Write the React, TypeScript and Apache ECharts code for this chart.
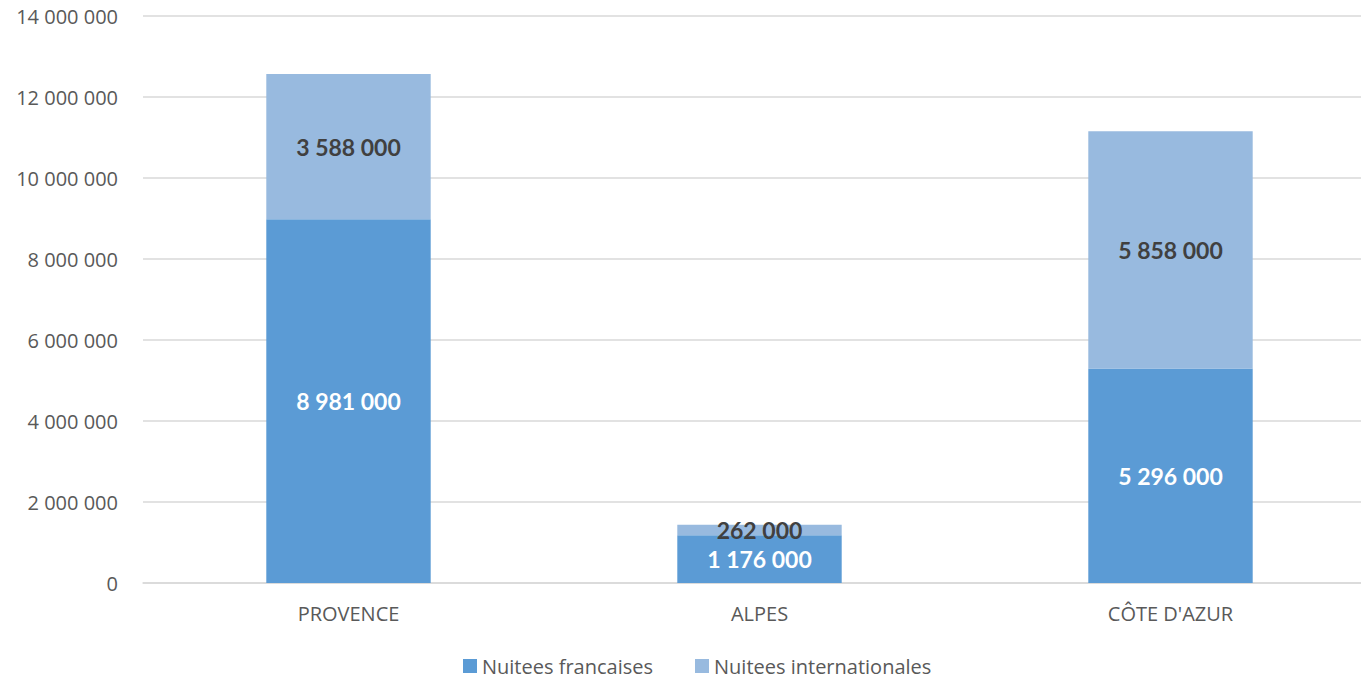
import React, { useEffect, useRef } from "react";
import * as echarts from "echarts";

const categories = ["PROVENCE", "ALPES", "CÔTE D'AZUR"];
const nuiteesFrancaises = [8981000, 1176000, 5296000];
const nuiteesInternationales = [3588000, 262000, 5858000];
const seriesNames = ["Nuitees francaises", "Nuitees internationales"];

const fmt = (v: number) =>
  String(Math.round(v)).replace(/\B(?=(\d{3})+(?!\d))/g, " ");

export default function App() {
  const ref = useRef<HTMLDivElement>(null);
  useEffect(() => {
    if (!ref.current) return;
    const chart = echarts.init(ref.current, null, { renderer: "svg" });
    const labelFont = "Lato, 'Open Sans', sans-serif";
    chart.setOption({
      animation: false,
      backgroundColor: "#ffffff",
      grid: { left: 143, width: 1233, top: 16, bottom: 96, containLabel: false },
      legend: {
        data: seriesNames,
        top: 656,
        left: 463,
        padding: 0,
        itemWidth: 14,
        itemHeight: 14,
        itemGap: 42,
        icon: "rect",
        textStyle: {
          fontFamily: "'Open Sans', sans-serif",
          fontSize: 20,
          lineHeight: 20,
          color: "#595959",
        },
      },
      xAxis: {
        type: "category",
        data: categories,
        axisLine: { lineStyle: { color: "#d9d9d9", width: 1.5 } },
        axisTick: { show: false },
        axisLabel: {
          margin: 20,
          fontFamily: "'Open Sans', sans-serif",
          fontSize: 20,
          color: "#595959",
        },
      },
      yAxis: {
        type: "value",
        min: 0,
        max: 14000000,
        interval: 2000000,
        axisLine: { show: false },
        axisTick: { show: false },
        splitLine: { lineStyle: { color: "#d9d9d9", width: 1.5 } },
        axisLabel: {
          margin: 25,
          fontFamily: "'Open Sans', sans-serif",
          fontSize: 20,
          color: "#595959",
          formatter: (v: number) => fmt(v),
        },
      },
      series: [
        {
          name: seriesNames[0],
          type: "bar",
          stack: "total",
          data: nuiteesFrancaises,
          barWidth: "40%",
          itemStyle: { color: "#5B9BD5" },
          label: {
            show: true,
            position: "inside",
            color: "#ffffff",
            fontFamily: labelFont,
            fontWeight: "bold",
            fontSize: 23,
            formatter: (p: any) => fmt(p.value),
          },
        },
        {
          name: seriesNames[1],
          type: "bar",
          stack: "total",
          data: nuiteesInternationales,
          barWidth: "40%",
          itemStyle: { color: "#98BADF" },
          label: {
            show: true,
            position: "inside",
            color: "#404040",
            fontFamily: labelFont,
            fontWeight: "bold",
            fontSize: 23,
            formatter: (p: any) => fmt(p.value),
          },
        },
      ],
    });
    return () => chart.dispose();
  }, []);
  return (
    <div
      ref={ref}
      style={{ position: "fixed", left: 0, top: 0, width: 1400, height: 679 }}
    />
  );
}
